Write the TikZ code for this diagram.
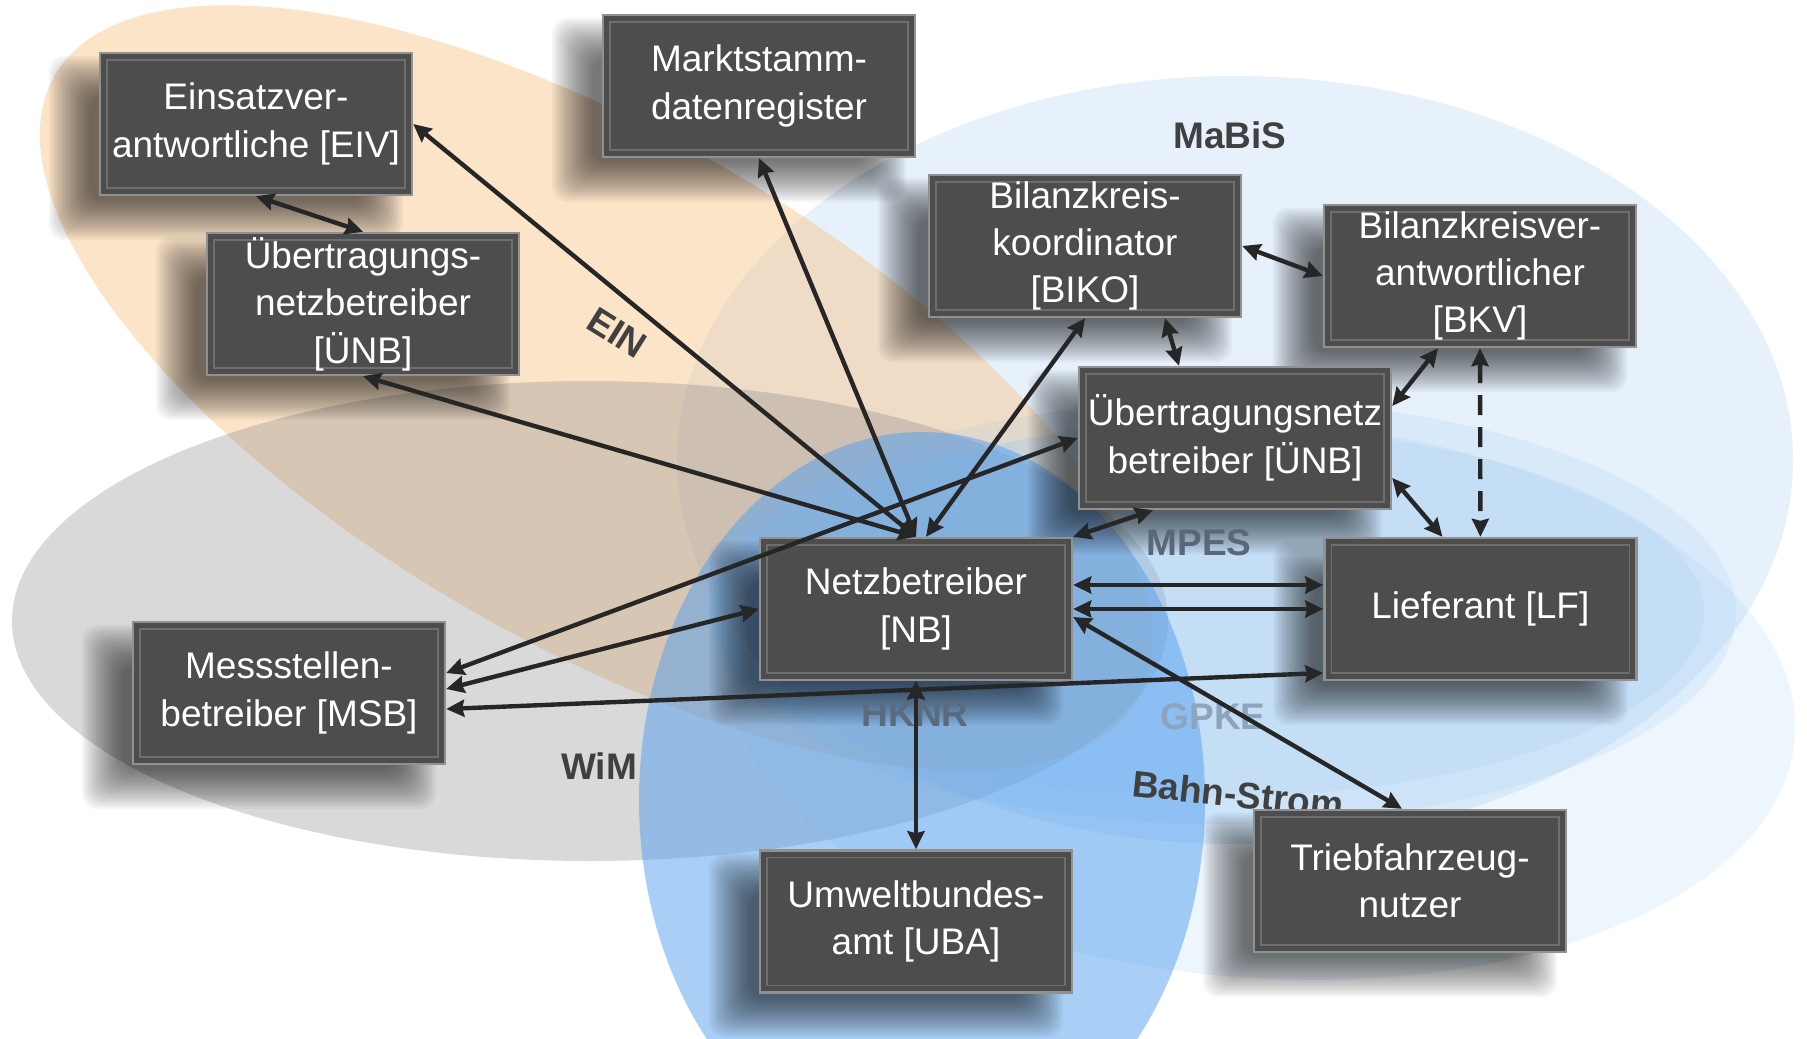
\documentclass[tikz,border=0pt]{standalone}
\usepackage{fontspec}
\setmainfont{Liberation Sans}
\usetikzlibrary{arrows.meta,positioning}

\definecolor{boxfill}{RGB}{77,77,77}
\definecolor{boxedge}{RGB}{145,145,145}
\definecolor{boxinner}{RGB}{110,110,110}
\definecolor{labelgray}{RGB}{64,64,64}
\definecolor{hknrtext}{RGB}{90,107,128}
\definecolor{mpestext}{RGB}{89,103,122}
\definecolor{gpketext}{RGB}{142,164,188}
\definecolor{mabisblue}{RGB}{230,241,252}
\definecolor{einorange}{RGB}{249,201,145}
\definecolor{wimgray}{RGB}{136,136,136}
\definecolor{bandblue}{RGB}{156,200,242}
\definecolor{hknrblue}{RGB}{83,159,239}
\definecolor{arrowgray}{RGB}{38,38,38}

\pgfdeclarelayer{back}
\pgfdeclarelayer{shade}
\pgfsetlayers{back,shade,main}

\begin{document}
\begin{tikzpicture}[x=0.5pt,y=-0.5pt]
\tikzset{role/.style={draw=boxedge, line width=1.2pt, fill=boxfill, text=white,
minimum width=156pt, minimum height=71pt, inner sep=0pt, align=center,
font=\fontsize{18.5}{23.7}\selectfont,
path picture={\draw[boxinner, line width=.8pt]
([shift={(3.5pt,-3.5pt)}]path picture bounding box.north west) rectangle
([shift={(-3.5pt,3.5pt)}]path picture bounding box.south east);}},
area/.style={font=\bfseries\fontsize{18.5}{22}\selectfont, text=labelgray}}

\useasboundingbox (0,0) rectangle (1807,1038);
\begin{pgfonlayer}{back}
\clip (0,0) rectangle (1807,1038);
\fill[mabisblue] (1235,460) ellipse [x radius=558, y radius=384];
\fill[einorange, opacity=.5, shift={(596,388)}, rotate=-30] (0,0) ellipse [x radius=625, y radius=255];
\fill[wimgray, opacity=.32] (590,621) ellipse [x radius=578, y radius=240];
\fill[bandblue, opacity=.18] (1222,612) ellipse [x radius=514, y radius=212];
\fill[bandblue, opacity=.18] (1207,612) ellipse [x radius=497, y radius=185];
\fill[bandblue, opacity=.18, shift={(1262,700)}, rotate=-4] (0,0) ellipse [x radius=534, y radius=278];
\fill[hknrblue, opacity=.5] (922,800) ellipse [x radius=283, y radius=368];
\end{pgfonlayer}

\node[area] (mabis) at (1230,135) {MaBiS};
\node[area, rotate=-32] (ein) at (617,333) {EIN};
\node[area] (wim) at (599,766) {WiM};
\node[area, text=hknrtext] (hknr) at (915,714) {HKNR};
\node[area, text=mpestext] (mpes) at (1199,543) {MPES};
\node[area, text=gpketext] (gpke) at (1213,717) {GPKE};
\node[area, rotate=-6] (bahn) at (1238,794) {Bahn-Strom};

\node[role] (EIV) at (256,124) {Einsatzver-\\antwortliche [EIV]};
\node[role] (UNBl) at (363,304) {Übertragungs-\\netzbetreiber\\{[ÜNB]}};
\node[role] (MaStR) at (759,86) {Marktstamm-\\datenregister};
\node[role] (BIKO) at (1085,246) {Bilanzkreis-\\koordinator\\{[BIKO]}};
\node[role] (BKV) at (1480,276) {Bilanzkreisver-\\antwortlicher\\{[BKV]}};
\node[role] (UNBr) at (1235,438) {Übertragungsnetz\\betreiber [ÜNB]};
\node[role] (NB) at (916,609) {Netzbetreiber\\{[NB]}};
\node[role, right=125pt of NB] (LF) {Lieferant [LF]};
\node[role, below=84pt of NB] (UBA) {Umweltbundes-\\amt [UBA]};
\node[role] (MSB) at (289,693) {Messstellen-\\betreiber [MSB]};
\node[role] (Trieb) at (1410,881) {Triebfahrzeug-\\nutzer};

% soft shadows, lower left of every box
\begin{pgfonlayer}{shade}
\clip (0,0) rectangle (1807,1038);
\foreach \n in {EIV,UNBl,MaStR,BIKO,BKV,UNBr,NB,LF,UBA,MSB,Trieb}
\foreach \e in {0,1,...,20}
\fill[black, opacity=.034, rounded corners=8pt]
([shift={(-5pt-\e pt,-2pt-\e pt)}]\n.south west) rectangle
([shift={(-25pt+\e pt,-22pt+\e pt)}]\n.north east);
\end{pgfonlayer}

\path[draw, arrowgray, line width=2.2pt, <->, >={Stealth[length=9pt,width=8.5pt,inset=1pt]}]
(EIV.south) edge (UNBl.north)
(EIV.east) edge (NB.north)
(UNBl.south) edge (NB.north)
(MaStR.south) edge (NB.north)
(BIKO.south) edge ([xshift=5pt]NB.north)
([yshift=10pt]MSB.east) edge (UNBr.west)
([yshift=2pt]MSB.east) edge (NB.west)
([yshift=-8pt]MSB.east) edge ([yshift=-32pt]LF.west)
(NB.north east) edge ([xshift=-41pt]UNBr.south)
([xshift=40pt]BIKO.south) edge ([xshift=-28pt]UNBr.north)
(BIKO.east) edge (BKV.west)
([xshift=-21pt]BKV.south) edge ([yshift=16pt]UNBr.east)
(BKV.south) edge [dash pattern=on 10pt off 6pt] (LF.north)
([yshift=-20pt]UNBr.east) edge ([xshift=-19pt]LF.north)
([yshift=12pt]NB.east) edge ([yshift=12pt]LF.west)
(NB.east) edge (LF.west)
([yshift=-4pt]NB.east) edge ([xshift=-4pt]Trieb.north)
(NB.south) edge (UBA.north);
\end{tikzpicture}
\end{document}
